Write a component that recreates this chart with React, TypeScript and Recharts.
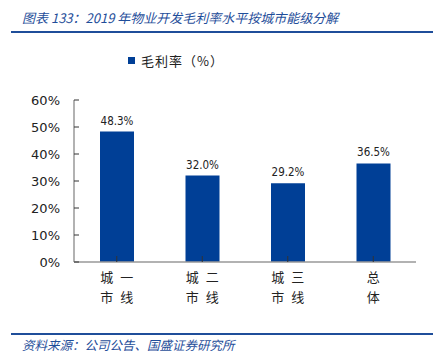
import * as React from 'react'
import { Bar, BarChart, LabelList, XAxis, YAxis } from 'recharts'

const categories = ['城一市线', '城二市线', '城三市线', '总体']
const grossMargin = [48.3, 32.0, 29.2, 36.5]
const yTicks = [0, 10, 20, 30, 40, 50, 60]
const bandTicks = [0, 1, 2, 3, 4]

const BLUE = '#003f96'
const TITLE_BLUE = '#1f4e9a'
const CJK = '"Noto Sans CJK SC", sans-serif'

const data = categories.map((name, i) => ({ name, value: grossMargin[i], idx: i + 0.5 }))

// two-line category label, two characters per line
const CategoryTick = (props: any) => {
  const { x, y, payload } = props
  const s: string = payload.value
  const lines = s.length === 2 ? [[s[0]], [s[1]]] : [[s[0], s[1]], [s[2], s[3]]]
  return (
    <g>
      {lines.map((chars, li) =>
        chars.map((ch, ci) => (
          <text
            key={`${li}-${ci}`}
            x={chars.length === 1 ? x : x + (ci === 0 ? -10 : 10)}
            y={y + 24 + li * 20}
            textAnchor="middle"
            fontSize={13}
            fontFamily={CJK}
            fill="#222"
          >
            {ch}
          </text>
        ))
      )}
    </g>
  )
}

export default function App() {
  return (
    <div
      style={{
        position: 'absolute',
        top: 0,
        left: 0,
        width: 441,
        height: 360,
        background: '#fff',
        fontFamily: CJK,
      }}
    >
      <div
        style={{
          position: 'absolute',
          left: 22,
          top: 8,
          fontSize: 13,
          fontStyle: 'italic',
          color: TITLE_BLUE,
          whiteSpace: 'nowrap',
        }}
      >
        图表 133：2019 年物业开发毛利率水平按城市能级分解
      </div>
      <div style={{ position: 'absolute', left: 11, top: 31, width: 422, height: 2, background: TITLE_BLUE }} />

      <div style={{ position: 'absolute', left: 128, top: 51, display: 'flex', alignItems: 'center' }}>
        <span style={{ width: 7, height: 7, background: BLUE, marginRight: 6 }} />
        <span style={{ fontSize: 13, color: '#222', letterSpacing: 1 }}>毛利率（%）</span>
      </div>

      <BarChart
        width={441}
        height={360}
        data={data}
        margin={{ top: 100, right: 25, bottom: 58, left: 14 }}
        style={{ position: 'absolute', top: 0, left: 0 }}
      >
        <XAxis
          xAxisId="band"
          type="number"
          dataKey="idx"
          domain={[0, 4]}
          ticks={bandTicks}
          height={0}
          tick={false}
          axisLine={false}
          tickSize={-6}
          tickLine={{ stroke: '#333' }}
        />
        <XAxis
          xAxisId="cat"
          dataKey="name"
          height={40}
          interval={0}
          tick={<CategoryTick />}
          tickSize={-6}
          tickLine={{ stroke: '#333' }}
          axisLine={{ stroke: '#999', strokeWidth: 1.5 }}
        />
        <YAxis
          width={60}
          domain={[0, 60]}
          ticks={yTicks}
          interval={0}
          tickSize={-5}
          tickMargin={19}
          tickLine={{ stroke: '#333' }}
          axisLine={{ stroke: '#999', strokeWidth: 1.5 }}
          tickFormatter={(v: number) => `${v}%`}
          tick={{ fontSize: 13, fontFamily: '"DejaVu Sans", sans-serif', fill: '#222' }}
        />
        <Bar xAxisId="cat" dataKey="value" fill={BLUE} barSize={34} isAnimationActive={false}>
          <LabelList
            dataKey="value"
            position="top"
            offset={7}
            formatter={(v: any) => `${Number(v).toFixed(1)}%`}
            style={{ fontSize: 11.5, fontFamily: '"DejaVu Sans Condensed", "DejaVu Sans", sans-serif', fill: '#222' }}
          />
        </Bar>
      </BarChart>

      <div style={{ position: 'absolute', left: 11, top: 333, width: 422, height: 2, background: TITLE_BLUE }} />
      <div
        style={{
          position: 'absolute',
          left: 22,
          top: 335,
          fontSize: 12.5,
          fontStyle: 'italic',
          color: TITLE_BLUE,
          whiteSpace: 'nowrap',
        }}
      >
        资料来源：公司公告、国盛证券研究所
      </div>
    </div>
  )
}
